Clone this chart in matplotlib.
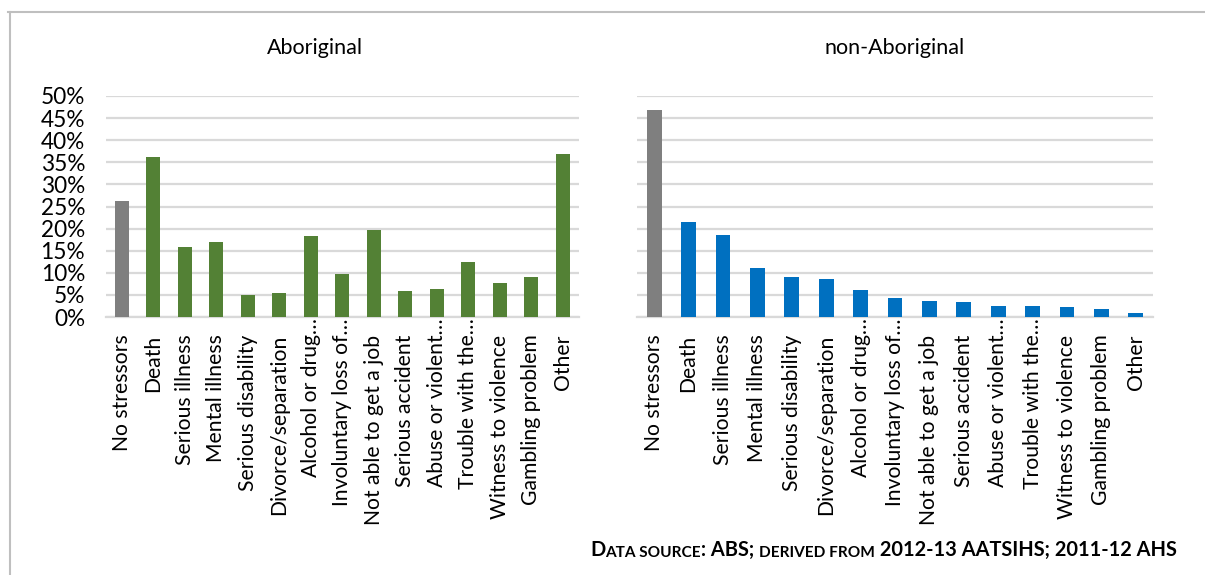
import matplotlib.pyplot as plt
from matplotlib.lines import Line2D
from matplotlib.ticker import PercentFormatter
from matplotlib.transforms import ScaledTranslation

plt.rcParams['font.family'] = ['Lato', 'DejaVu Sans']

# categories (labels truncated as in the original)
categories = ['No stressors', 'Death', 'Serious illness', 'Mental illness',
              'Serious disability', 'Divorce/separation', 'Alcohol or drug…',
              'Involuntary loss of…', 'Not able to get a job', 'Serious accident',
              'Abuse or violent…', 'Trouble with the…', 'Witness to violence',
              'Gambling problem', 'Other']

# values in %
aboriginal = [26.2, 36.1, 15.8, 17.0, 5.0, 5.4, 18.3, 9.8, 19.7, 5.9, 6.3, 12.4, 7.7, 9.0, 36.9]
non_aboriginal = [46.9, 21.6, 18.5, 11.0, 9.0, 8.7, 6.1, 4.3, 3.7, 3.5, 2.5, 2.5, 2.2, 1.9, 0.8]

yticks = [0, 5, 10, 15, 20, 25, 30, 35, 40, 45, 50]

grey = '#7f7f7f'
green = '#538135'
blue = '#0070c0'
grid_col = '#d9d9d9'

W, H = 1205, 575
fig = plt.figure(figsize=(W / 100, H / 100), dpi=100)


def setup(ax, values, color, show_y):
    x = range(len(categories))
    cols = [grey] + [color] * (len(values) - 1)
    ax.bar(x, values, width=0.43, color=cols, zorder=3)
    ax.set_xlim(-0.5, len(categories) - 0.5)
    ax.set_ylim(0, 50)
    ax.set_yticks(yticks)
    ax.yaxis.set_major_formatter(PercentFormatter(decimals=0))
    ax.grid(axis='y', color=grid_col, lw=1.6, zorder=0)
    for s in ['top', 'right', 'left']:
        ax.spines[s].set_visible(False)
    ax.spines['bottom'].set_color(grid_col)
    ax.spines['bottom'].set_linewidth(1.6)
    ax.set_xticks(list(x))
    ax.set_xticklabels(categories, rotation=90, fontsize=15.2, color='black')
    ax.tick_params(axis='x', length=0, pad=1)
    ax.tick_params(axis='y', length=0, pad=15, labelsize=16.3)
    if not show_y:
        ax.tick_params(axis='y', labelleft=False)
    # full-length labels sit lower than the truncated ones
    shift = ScaledTranslation(0, -16 / 100, fig.dpi_scale_trans)
    for lab in ax.get_xticklabels():
        if not lab.get_text().endswith('…'):
            lab.set_transform(lab.get_transform() + shift)


ax1 = fig.add_axes([106 / W, 1 - 317 / H, 472.5 / W, 221 / H])
setup(ax1, aboriginal, green, True)

ax2 = fig.add_axes([637 / W, 1 - 317 / H, 516 / W, 221 / H])
setup(ax2, non_aboriginal, blue, False)

fig.text(315 / W, 1 - 48 / H, 'Aboriginal', ha='center', va='center', fontsize=15.5)
fig.text(895 / W, 1 - 48 / H, 'non-Aboriginal', ha='center', va='center', fontsize=15.5)

# chart frame lines
fig.add_artist(Line2D([8 / W, 1], [1 - 12 / H, 1 - 12 / H], color='#bfbfbf', lw=1.5))
fig.add_artist(Line2D([9.5 / W, 9.5 / W], [0, 1 - 12 / H], color='#bfbfbf', lw=1.5))

# source note in small caps, pieces chained left to right
pieces = [('D', 14.4), ('ATA SOURCE', 11.1), (': ABS; ', 14.4), ('DERIVED FROM', 11.1),
          (' 2012-13 AATSIHS; 2011-12 AHS', 14.4)]
prev = fig.text(590 / W, 1 - 556 / H, pieces[0][0], fontsize=pieces[0][1],
                fontweight='bold', va='baseline', ha='left')
for txt, size in pieces[1:]:
    prev = fig.add_artist(plt.Annotation(txt, xy=(1, 0), xycoords=prev, va='bottom',
                                         ha='left', fontsize=size, fontweight='bold'))

fig.savefig('out.png', dpi=100)
